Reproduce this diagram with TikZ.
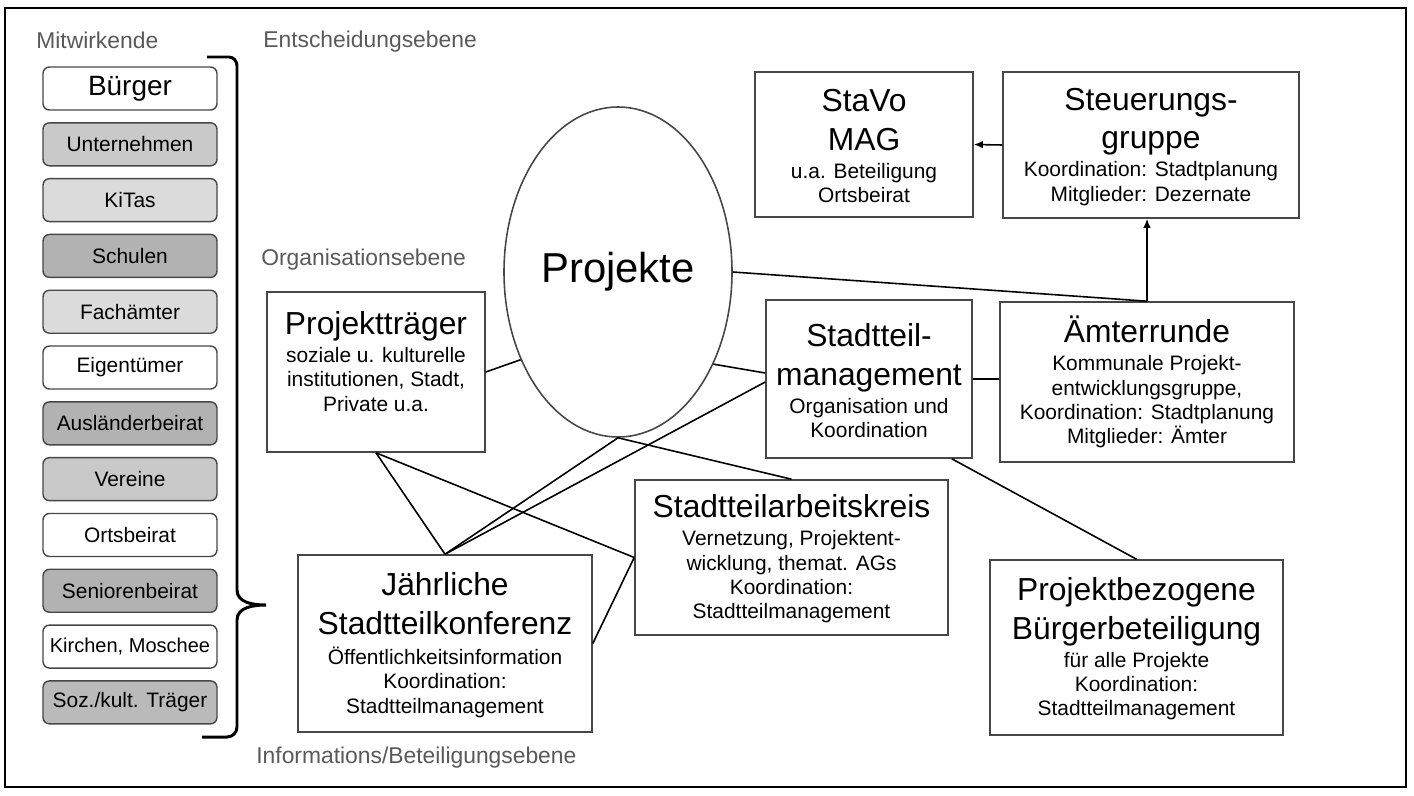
\documentclass[tikz,border=0pt]{standalone}
\usepackage{fontspec}
\setmainfont{Liberation Sans}
\usetikzlibrary{arrows.meta,positioning,shapes.geometric,calc}
\definecolor{mwink}{gray}{0.15}
\definecolor{mwlabel}{gray}{0.35}
\definecolor{mwlight}{gray}{0.86}
\definecolor{mwmid}{gray}{0.79}
\definecolor{mwdark}{gray}{0.70}
\newcommand{\Ttl}[1]{{\fontsize{18.1}{21}\selectfont\strut #1}}

\begin{document}
\begin{tikzpicture}[
  x=0.2mm, y=-0.2mm,
  font=\fontsize{11.9}{13.8}\selectfont,
  node distance=2.28mm,
  mitbox/.style={draw=mwink!85, line width=0.8pt, rounded corners=1.3mm, minimum width=34.8mm,
                 minimum height=8.6mm, inner sep=1pt},
  orgbox/.style={draw=mwink!85, fill=white, line width=0.9pt, align=center, inner sep=2pt},
  ebene/.style={anchor=west, inner sep=0pt, text=mwlabel, font=\fontsize{13}{15}\selectfont},
  link/.style={line width=0.9pt, black},
  arr/.style={-{Latex[length=1.8mm,width=1.5mm]}, line width=0.9pt, black},
  brace/.style={line width=1.7pt, black}
]
\useasboundingbox (0,0) rectangle (1414,795);
\draw[line width=0.9pt] (5,8) rectangle (1406,787);

% ---- level labels ----
\node[ebene] (mitw) at (36,40) {Mitwirkende};
\node[ebene] (lv1) at (263,42) {Entscheidungsebene};
\node[ebene] (lv2) at (261,260) {Organisationsebene};
\node[ebene] (lv3) at (256,758) {Informations/Beteiligungsebene};

% ---- left column: participants ----
\node[mitbox, font=\fontsize{15.9}{18}\selectfont] (m1) at (130,88.5) {Bürger};
\node[mitbox, fill=mwmid, below=of m1] (m2) {Unternehmen};
\node[mitbox, fill=mwlight, below=of m2] (m3) {KiTas};
\node[mitbox, fill=mwdark, below=of m3] (m4) {Schulen};
\node[mitbox, fill=mwlight, below=of m4] (m5) {Fachämter};
\node[mitbox, below=of m5] (m6) {Eigentümer};
\node[mitbox, fill=mwdark, below=of m6] (m7) {Ausländerbeirat};
\node[mitbox, fill=mwmid, below=of m7] (m8) {Vereine};
\node[mitbox, below=of m8] (m9) {Ortsbeirat};
\node[mitbox, fill=mwdark, below=of m9] (m10) {Seniorenbeirat};
\node[mitbox, below=of m10, font=\fontsize{11.4}{13}\selectfont] (m11) {Kirchen, Moschee};
\node[mitbox, fill=mwdark!90, below=of m11] (m12) {Soz./kult. Träger};

% brace
\draw[brace] (207,57) -- (229,57) to[out=0,in=90] (237,66) -- (237,590)
  to[out=-90,in=180] (266,605) to[out=180,in=90] (237,620) -- (237,727)
  to[out=-90,in=0] (227,737) -- (202,737);

% ---- decision level ----
\node[orgbox, minimum width=43.6mm, minimum height=29mm] (stavo) at (864,144.5)
  {\Ttl{StaVo}\\ \Ttl{MAG}\\ u.a. Beteiligung\\ Ortsbeirat};
\node[orgbox, minimum width=59.2mm, minimum height=29.2mm] (steuer) at (1151,145)
  {\Ttl{Steuerungs-}\\ \Ttl{gruppe}\\ Koordination: Stadtplanung\\ Mitglieder: Dezernate};

% ---- organisation level ----
\node[ellipse, draw=mwink!85, line width=0.9pt, inner sep=0pt, minimum width=45.6mm, minimum height=66mm,
      font=\fontsize{23.8}{26}\selectfont] (proj) at (618,272) {Projekte};
\node[orgbox, minimum width=43.6mm, minimum height=32mm] (ptr) at (376,372)
  {\Ttl{Projektträger}\\ soziale u. kulturelle\\ institutionen, Stadt,\\ Private u.a.\\ \mbox{}};
\node[orgbox, minimum width=41.2mm, minimum height=31.6mm] (stm) at (869,379)
  {\Ttl{Stadtteil-}\\ \Ttl{management}\\ Organisation und\\ Koordination};
\node[orgbox, minimum width=58.8mm, minimum height=32mm] (amt) at (1147,382)
  {\Ttl{Ämterrunde}\\ Kommunale Projekt-\\ entwicklungsgruppe,\\ Koordination: Stadtplanung\\ Mitglieder: Ämter};

% ---- information / participation level ----
\node[orgbox, minimum width=62.6mm, minimum height=31mm] (sak) at (791.5,557.5)
  {\Ttl{Stadtteilarbeitskreis}\\ Vernetzung, Projektent-\\ wicklung, themat. AGs\\ Koordination:\\ Stadtteilmanagement};
\node[orgbox, minimum width=58.8mm, minimum height=35.4mm] (konf) at (445,643.5)
  {\Ttl{Jährliche}\\ \Ttl{Stadtteilkonferenz}\\ Öffentlichkeitsinformation\\ Koordination:\\ Stadtteilmanagement};
\node[orgbox, minimum width=58.6mm, minimum height=35mm] (bbet) at (1136.5,647.5)
  {\Ttl{Projektbezogene}\\ \Ttl{Bürgerbeteiligung}\\ für alle Projekte\\ Koordination:\\ Stadtteilmanagement};

% ---- connections ----
\draw[arr] (steuer.west) -- (stavo.east);
\draw[arr] (amt.north) -- (amt.north |- steuer.south);
\draw[link] (proj.east) -- (amt.north);
\draw[link] (ptr.east) -- (proj.222);
\draw[link] (proj.316) -- ($(stm.west)+(0,-6)$);
\draw[link] (konf.north) -- (proj.south);
\draw[link] (konf.north) -- ($(stm.west)+(0,3)$);
\draw[link] (ptr.south) -- (konf.north);
\draw[link] (ptr.south) -- (sak.west);
\draw[link] (konf.east) -- (sak.west);
\draw[link] (proj.south) -- (sak.north);
\draw[link] ($(stm.south east)+(-21,0)$) -- (bbet.north);
\draw[link] (stm.east) -- (stm.east -| amt.west);
\end{tikzpicture}
\end{document}
